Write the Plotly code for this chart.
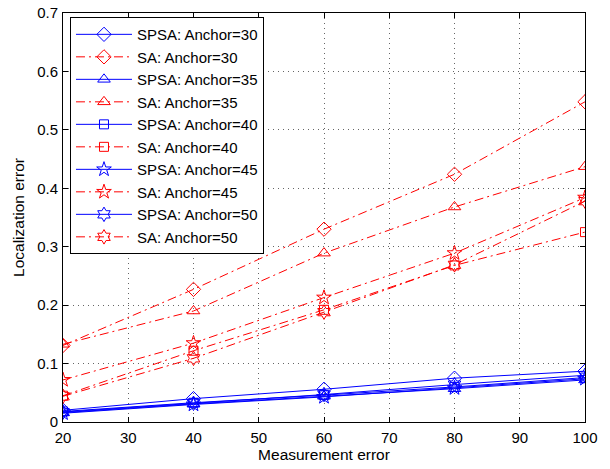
import plotly.graph_objects as go

x_err = [20, 40, 60, 80, 100]
anchors = [30, 35, 40, 45, 50]
spsa = {
    30: [0.020, 0.040, 0.056, 0.075, 0.087],
    35: [0.016, 0.031, 0.044, 0.057, 0.072],
    40: [0.018, 0.033, 0.046, 0.060, 0.076],
    45: [0.015, 0.030, 0.043, 0.058, 0.074],
    50: [0.017, 0.032, 0.047, 0.064, 0.080],
}
sa = {
    30: [0.131, 0.227, 0.330, 0.424, 0.548],
    35: [0.133, 0.190, 0.289, 0.368, 0.437],
    40: [0.045, 0.122, 0.192, 0.268, 0.325],
    45: [0.072, 0.135, 0.213, 0.289, 0.384],
    50: [0.044, 0.109, 0.188, 0.269, 0.378],
}
x_ticks = [20, 30, 40, 50, 60, 70, 80, 90, 100]
y_ticks = [0, 0.1, 0.2, 0.3, 0.4, 0.5, 0.6, 0.7]
y_ticktext = ["0", "0.1", "0.2", "0.3", "0.4", "0.5", "0.6", "0.7"]

symbols = {30: "diamond-open", 35: "triangle-up-open", 40: "square-open",
           45: "star-open", 50: "hexagram-open"}
msize = {30: 11, 35: 11, 40: 9, 45: 11, 50: 11}

fig = go.Figure()
for a in anchors:
    fig.add_trace(go.Scatter(
        x=x_err, y=spsa[a], mode="lines+markers", name=f"SPSA: Anchor={a}",
        line=dict(color="#0000ff", width=1),
        marker=dict(symbol=symbols[a], size=msize[a], color="#0000ff", line=dict(width=1, color="#0000ff")),
    ))
    fig.add_trace(go.Scatter(
        x=x_err, y=sa[a], mode="lines+markers", name=f"SA: Anchor={a}",
        line=dict(color="#ff0000", width=1, dash="9px,4px,2px,4px"),
        marker=dict(symbol=symbols[a], size=msize[a], color="#ff0000", line=dict(width=1, color="#ff0000")),
    ))

axis_common = dict(
    showline=True, linecolor="black", linewidth=1, mirror="ticks",
    ticks="inside", ticklen=5, tickcolor="black",
    showgrid=True, gridcolor="#666666", griddash="1px,4px", gridwidth=1,
    zeroline=False, tickfont=dict(size=15, color="black"), automargin=False,
)
fig.update_xaxes(range=[20, 100], tickvals=x_ticks, ticklabelstandoff=2,
                 title=dict(text="Measurement error", font=dict(size=15.5, color="black"), standoff=3),
                 **axis_common)
fig.update_yaxes(range=[0, 0.7], tickvals=y_ticks, ticktext=y_ticktext, ticklabelstandoff=1,
                 title=dict(text="Localization error", font=dict(size=15.5, color="black"), standoff=8),
                 **axis_common)
fig.update_layout(
    width=610, height=469,
    margin=dict(l=63, r=25, t=13, b=47),
    paper_bgcolor="white", plot_bgcolor="white",
    font=dict(family="Liberation Sans, Arial, sans-serif", color="black"),
    showlegend=True,
    legend=dict(x=0.0134, y=0.990, xanchor="left", yanchor="top",
                bgcolor="white", bordercolor="black", borderwidth=1,
                font=dict(size=15), tracegroupgap=0, itemwidth=56),
)
fig.write_html("out.html")
